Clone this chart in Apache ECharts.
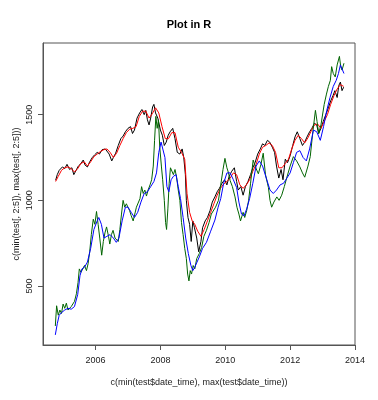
<!DOCTYPE html>
<html>
<head>
<meta charset="utf-8">
<script src="https://cdn.jsdelivr.net/npm/echarts@6/dist/echarts.min.js"></script>
<style>
  html, body { margin: 0; padding: 0; background: #fff; }
  #chart { width: 378px; height: 400px; }
</style>
</head>
<body>
<div id="chart"></div>
<script>
// tick labels
const xTicks = [2006, 2008, 2010, 2012, 2014]
const yTicks = [500, 1000, 1500]

// black series (decimal years / values)
const blackYears = [2004.77, 2004.82, 2004.88, 2004.93, 2004.98, 2005.05, 2005.12, 2005.2, 2005.27, 2005.33, 2005.4, 2005.47, 2005.55, 2005.62, 2005.68, 2005.75, 2005.82, 2005.9, 2005.97, 2006.05, 2006.12, 2006.2, 2006.3, 2006.36, 2006.42, 2006.5, 2006.55, 2006.62, 2006.7, 2006.78, 2006.85, 2006.92, 2007.0, 2007.08, 2007.14, 2007.2, 2007.28, 2007.36, 2007.43, 2007.5, 2007.55, 2007.6, 2007.65, 2007.7, 2007.76, 2007.8, 2007.85, 2007.92, 2008.0, 2008.06, 2008.12, 2008.18, 2008.24, 2008.3, 2008.38, 2008.45, 2008.52, 2008.6, 2008.67, 2008.72, 2008.77, 2008.8, 2008.85, 2008.9, 2008.95, 2009.0, 2009.05, 2009.12, 2009.18, 2009.25, 2009.3, 2009.38, 2009.45, 2009.53, 2009.6, 2009.68, 2009.75, 2009.82, 2009.9, 2009.98, 2010.05, 2010.12, 2010.2, 2010.28, 2010.35, 2010.4, 2010.48, 2010.55, 2010.62, 2010.7, 2010.78, 2010.85, 2010.92, 2011.0, 2011.08, 2011.15, 2011.22, 2011.3, 2011.37, 2011.45, 2011.52, 2011.58, 2011.65, 2011.72, 2011.78, 2011.85, 2011.92, 2012.0, 2012.08, 2012.15, 2012.22, 2012.3, 2012.38, 2012.45, 2012.52, 2012.6, 2012.67, 2012.75, 2012.82, 2012.88, 2012.95, 2013.02, 2013.1, 2013.18, 2013.25, 2013.32, 2013.38, 2013.45, 2013.5, 2013.55, 2013.6, 2013.65]
const blackValues = [1117, 1150, 1175, 1165, 1195, 1185, 1210, 1180, 1190, 1150, 1175, 1200, 1215, 1235, 1205, 1195, 1225, 1250, 1265, 1280, 1270, 1295, 1300, 1305, 1270, 1230, 1250, 1275, 1320, 1360, 1375, 1400, 1420, 1430, 1390, 1410, 1480, 1510, 1530, 1500, 1525, 1470, 1440, 1480, 1545, 1560, 1510, 1480, 1410, 1380, 1320, 1340, 1380, 1400, 1420, 1360, 1280, 1270, 1300, 1250, 1150, 1000, 900, 860, 760, 880, 840, 780, 700, 760, 840, 880, 900, 940, 990, 1020, 1050, 1070, 1100, 1120, 1090, 1140, 1170, 1190, 1110, 1060, 1080, 1030, 1080, 1110, 1150, 1190, 1220, 1270, 1300, 1330, 1320, 1350, 1340, 1310, 1280, 1200, 1130, 1180, 1120, 1240, 1220, 1260, 1320, 1370, 1400, 1360, 1320, 1340, 1370, 1400, 1420, 1450, 1440, 1390, 1420, 1460, 1500, 1540, 1580, 1610, 1640, 1600, 1670, 1690, 1640, 1660]

// red series
const redYears = [2004.77, 2004.85, 2004.95, 2005.05, 2005.15, 2005.25, 2005.35, 2005.45, 2005.55, 2005.65, 2005.75, 2005.85, 2005.95, 2006.05, 2006.15, 2006.25, 2006.35, 2006.45, 2006.55, 2006.65, 2006.75, 2006.85, 2006.95, 2007.05, 2007.15, 2007.25, 2007.35, 2007.45, 2007.55, 2007.65, 2007.75, 2007.85, 2007.95, 2008.05, 2008.15, 2008.25, 2008.35, 2008.45, 2008.55, 2008.65, 2008.75, 2008.82, 2008.9, 2008.98, 2009.06, 2009.15, 2009.25, 2009.35, 2009.45, 2009.55, 2009.65, 2009.75, 2009.85, 2009.95, 2010.05, 2010.15, 2010.25, 2010.35, 2010.45, 2010.55, 2010.65, 2010.75, 2010.85, 2010.95, 2011.05, 2011.15, 2011.25, 2011.35, 2011.45, 2011.55, 2011.65, 2011.75, 2011.85, 2011.95, 2012.05, 2012.15, 2012.25, 2012.35, 2012.45, 2012.55, 2012.65, 2012.75, 2012.85, 2012.95, 2013.05, 2013.15, 2013.25, 2013.35, 2013.45, 2013.55, 2013.65]
const redValues = [1110, 1140, 1175, 1190, 1195, 1185, 1165, 1185, 1215, 1225, 1200, 1225, 1255, 1270, 1285, 1295, 1300, 1280, 1250, 1275, 1320, 1360, 1395, 1415, 1420, 1430, 1490, 1520, 1520, 1480, 1505, 1540, 1510, 1430, 1360, 1360, 1395, 1395, 1310, 1280, 1240, 1040, 930, 880, 860, 820, 790, 830, 880, 930, 980, 1030, 1070, 1095, 1110, 1130, 1160, 1150, 1090, 1070, 1090, 1120, 1170, 1210, 1270, 1310, 1320, 1335, 1320, 1280, 1190, 1190, 1215, 1240, 1300, 1350, 1380, 1360, 1335, 1365, 1405, 1440, 1445, 1420, 1460, 1500, 1560, 1610, 1650, 1675, 1665]

// green series
const greenYears = [2004.76, 2004.8, 2004.85, 2004.9, 2004.95, 2005.0, 2005.05, 2005.1, 2005.15, 2005.2, 2005.25, 2005.3, 2005.35, 2005.41, 2005.46, 2005.5, 2005.55, 2005.6, 2005.66, 2005.72, 2005.77, 2005.82, 2005.87, 2005.93, 2005.98, 2006.03, 2006.08, 2006.13, 2006.19, 2006.24, 2006.29, 2006.34, 2006.4, 2006.44, 2006.49, 2006.54, 2006.6, 2006.65, 2006.7, 2006.75, 2006.8, 2006.85, 2006.9, 2006.95, 2007.0, 2007.05, 2007.1, 2007.16, 2007.21, 2007.26, 2007.31, 2007.37, 2007.42, 2007.47, 2007.52, 2007.57, 2007.62, 2007.68, 2007.73, 2007.78, 2007.82, 2007.86, 2007.9, 2007.94, 2007.98, 2008.03, 2008.07, 2008.12, 2008.16, 2008.19, 2008.23, 2008.27, 2008.31, 2008.35, 2008.4, 2008.45, 2008.5, 2008.55, 2008.6, 2008.65, 2008.7, 2008.75, 2008.8, 2008.84, 2008.88, 2008.92, 2008.96, 2009.01, 2009.06, 2009.12, 2009.2, 2009.27, 2009.34, 2009.42, 2009.5, 2009.57, 2009.63, 2009.7, 2009.79, 2009.86, 2009.93, 2009.99, 2010.05, 2010.1, 2010.15, 2010.22, 2010.3, 2010.36, 2010.42, 2010.47, 2010.5, 2010.55, 2010.6, 2010.66, 2010.72, 2010.78, 2010.86, 2010.94, 2011.02, 2011.1, 2011.17, 2011.24, 2011.3, 2011.33, 2011.38, 2011.43, 2011.5, 2011.59, 2011.66, 2011.74, 2011.82, 2011.9, 2012.0, 2012.1, 2012.2, 2012.3, 2012.38, 2012.45, 2012.55, 2012.62, 2012.7, 2012.78, 2012.83, 2012.88, 2012.95, 2013.05, 2013.12, 2013.18, 2013.24, 2013.28, 2013.33, 2013.39, 2013.45, 2013.52, 2013.56, 2013.6, 2013.66]
const greenValues = [267, 385, 330, 360, 340, 395, 370, 400, 360, 355, 380, 370, 410, 455, 520, 600, 580, 570, 620, 590, 630, 700, 800, 890, 860, 935, 860, 780, 680, 760, 810, 845, 790, 745, 800, 825, 780, 770, 760, 830, 920, 1000, 960, 980, 970, 940, 910, 880, 920, 960, 950, 1010, 1080, 1040, 1060, 1025, 1060, 1090, 1120, 1200, 1350, 1490, 1420, 1470, 1310, 1200, 1120, 1000, 870, 830, 950, 1100, 1190, 1185, 1150, 1180, 1135, 1060, 1000, 870, 800, 720, 660, 570, 530, 590, 570, 620, 600, 660, 690, 725, 790, 825, 870, 920, 920, 960, 1000, 1090, 1180, 1245, 1190, 1160, 1115, 1080, 1020, 960, 920, 880, 870, 930, 900, 940, 1000, 1100, 1235, 1190, 1155, 1210, 1275, 1150, 1100, 1075, 1000, 960, 990, 1020, 1000, 1030, 1080, 1135, 1200, 1255, 1230, 1195, 1160, 1135, 1200, 1255, 1400, 1525, 1460, 1390, 1440, 1560, 1620, 1665, 1700, 1780, 1740, 1720, 1790, 1840, 1780, 1760, 1800]

// blue series
const blueYears = [2004.76, 2004.82, 2004.88, 2004.95, 2005.05, 2005.15, 2005.25, 2005.35, 2005.45, 2005.52, 2005.58, 2005.66, 2005.75, 2005.85, 2005.95, 2006.05, 2006.1, 2006.18, 2006.26, 2006.35, 2006.45, 2006.55, 2006.64, 2006.72, 2006.82, 2006.92, 2007.0, 2007.1, 2007.2, 2007.3, 2007.4, 2007.5, 2007.6, 2007.7, 2007.8, 2007.88, 2007.95, 2008.02, 2008.08, 2008.14, 2008.2, 2008.26, 2008.33, 2008.4, 2008.48, 2008.55, 2008.62, 2008.7, 2008.78, 2008.86, 2008.94, 2009.0, 2009.06, 2009.13, 2009.2, 2009.3, 2009.42, 2009.55, 2009.68, 2009.78, 2009.86, 2009.95, 2010.05, 2010.15, 2010.25, 2010.35, 2010.42, 2010.5, 2010.58, 2010.66, 2010.75, 2010.85, 2010.95, 2011.05, 2011.15, 2011.28, 2011.38, 2011.48, 2011.58, 2011.69, 2011.8, 2011.9, 2012.0, 2012.1, 2012.2, 2012.3, 2012.4, 2012.5, 2012.6, 2012.72, 2012.82, 2012.93, 2013.03, 2013.13, 2013.23, 2013.33, 2013.42, 2013.49, 2013.55, 2013.6, 2013.66]
const blueValues = [215, 280, 330, 345, 360, 370, 365, 380, 450, 560, 600, 610, 640, 720, 830, 880, 900, 860, 780, 790, 800, 780, 755, 780, 880, 960, 960, 930, 900, 930, 990, 1040, 1050, 1080, 1110, 1160, 1280, 1340, 1350, 1250, 1080, 1050, 1120, 1140, 1150, 1080, 1010, 900, 780, 690, 620, 590, 610, 640, 670, 720, 755, 820, 885, 960, 1010, 1100, 1160, 1160, 1120, 1075, 990, 920, 910, 950, 1010, 1100, 1200, 1230, 1200, 1120, 1060, 1040, 1060, 1090, 1100, 1130, 1160, 1220, 1280, 1290, 1250, 1230, 1300, 1410, 1400, 1350, 1430, 1525, 1600, 1665, 1700, 1740, 1790, 1800, 1740]

const zip = (xs, ys) => xs.map((x, i) => [x, ys[i]])

const chart = echarts.init(document.getElementById('chart'))
const txt = '#222'
const frame = '#555'
const font = 'Liberation Sans, Arial, sans-serif'

const line = (name, color, xs, ys) => ({
  name,
  type: 'line',
  data: zip(xs, ys),
  showSymbol: false,
  lineStyle: { color, width: 1 },
  itemStyle: { color },
  silent: true
})

chart.setOption({
  animation: false,
  title: {
    text: 'Plot in R',
    left: 'center',
    top: 14,
    textStyle: { fontFamily: font, fontSize: 11, fontWeight: 'bold', color: '#000' }
  },
  grid: {
    left: 43,
    right: 23,
    top: 43,
    bottom: 55,
    show: true,
    borderColor: frame,
    borderWidth: 1,
    backgroundColor: 'transparent'
  },
  xAxis: {
    type: 'value',
    min: 2004.38,
    max: 2014.0,
    name: 'c(min(test$date_time), max(test$date_time))',
    nameLocation: 'middle',
    nameGap: 33,
    nameMoveOverlap: false,
    nameTextStyle: { fontFamily: font, fontSize: 9, color: txt },
    splitLine: { show: false },
    axisLine: { show: true, lineStyle: { color: frame } },
    axisTick: { show: true, length: 5, lineStyle: { color: frame }, customValues: xTicks },
    axisLabel: { fontFamily: font, fontSize: 9, color: txt, margin: 11, customValues: xTicks, formatter: v => String(v) }
  },
  yAxis: {
    type: 'value',
    min: 156,
    max: 1918,
    name: 'c(min(test[, 2:5]), max(test[, 2:5]))',
    nameLocation: 'middle',
    nameRotate: 90,
    nameGap: 22,
    nameMoveOverlap: false,
    nameTextStyle: { fontFamily: font, fontSize: 9, color: txt },
    splitLine: { show: false },
    axisLine: { show: true, lineStyle: { color: frame } },
    axisTick: { show: true, length: 5, lineStyle: { color: frame }, customValues: yTicks },
    axisLabel: { fontFamily: font, fontSize: 9, color: txt, rotate: 90, margin: 9, customValues: yTicks, formatter: v => String(v) }
  },
  series: [
    line('black', '#000000', blackYears, blackValues),
    line('red', '#ff0000', redYears, redValues),
    line('green', '#006400', greenYears, greenValues),
    line('blue', '#0000ff', blueYears, blueValues)
  ]
})
</script>
</body>
</html>
